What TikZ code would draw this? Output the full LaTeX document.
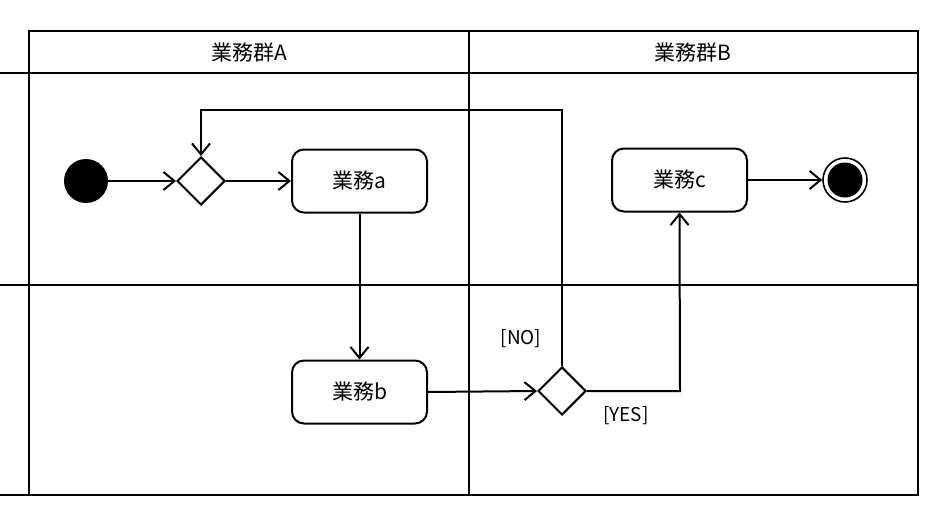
\documentclass[tikz,border=0pt]{standalone}
\usepackage{fontspec}
\setmainfont{Noto Sans CJK JP}
\usetikzlibrary{arrows.meta,shapes.geometric}
\begin{document}
\begin{tikzpicture}[x=1pt,y=-1pt,
  frame/.style={line width=2.3pt},
  conn/.style={line width=2pt,-{Straight Barb[length=11pt,width=18pt,line width=2pt]}},
  act/.style={draw,line width=2pt,rounded corners=12pt,minimum width=135pt,minimum height=63pt,font=\fontsize{21}{24}\selectfont,inner sep=0pt},
  dec/.style={draw,line width=2pt,diamond,minimum width=48pt,minimum height=48pt,inner sep=0pt},
  hdr/.style={font=\fontsize{21}{24}\selectfont},
  guard/.style={font=\fontsize{19}{22}\selectfont}]
\useasboundingbox (0,0) rectangle (945,527);
% swimlane frame
\draw[frame] (29,31) rectangle (918,495);
\draw[frame] (0,73) -- (918,73);
\draw[frame] (0,285) -- (918,285);
\draw[frame] (0,495) -- (29,495);
\draw[frame] (469,31) -- (469,495);
\node[hdr] (hA) at (249,53) {業務群A};
\node[hdr] (hB) at (693,53) {業務群B};
% nodes
\node[circle,fill=black,minimum size=44pt,inner sep=0pt] (start) at (86,181) {};
\node[dec] (d1) at (201,181) {};
\node[act] (a) at (359.5,181) {業務a};
\node[act] (b) at (359.5,392) {業務b};
\node[dec] (d2) at (562,391) {};
\node[act] (c) at (679.5,180) {業務c};
\node[circle,draw,line width=1.6pt,minimum size=44pt,inner sep=0pt] (end) at (845,180) {};
\node[circle,fill=black,minimum size=35pt,inner sep=0pt] (endin) at (845,180) {};
% connectors
\draw[conn] (start) -- (d1.west);
\draw[conn] (d1.east) -- (a.west);
\draw[conn] (a.south) -- (b.north);
\draw[conn] (b.east) -- (d2.west);
\coordinate (n1) at (562,110);
\coordinate (n2) at (201,110);
\draw[conn] (d2.north) -- (n1) -- (n2) -- (d1.north);
\coordinate (y1) at (680,391);
\draw[conn] (d2.east) -- (y1) -- (c.south);
\draw[conn] (c.east) -- (end.west);
% guards
\node[guard] (gno) at (521,339) {[NO]};
\node[guard] (gyes) at (626,416) {[YES]};
\end{tikzpicture}
\end{document}
